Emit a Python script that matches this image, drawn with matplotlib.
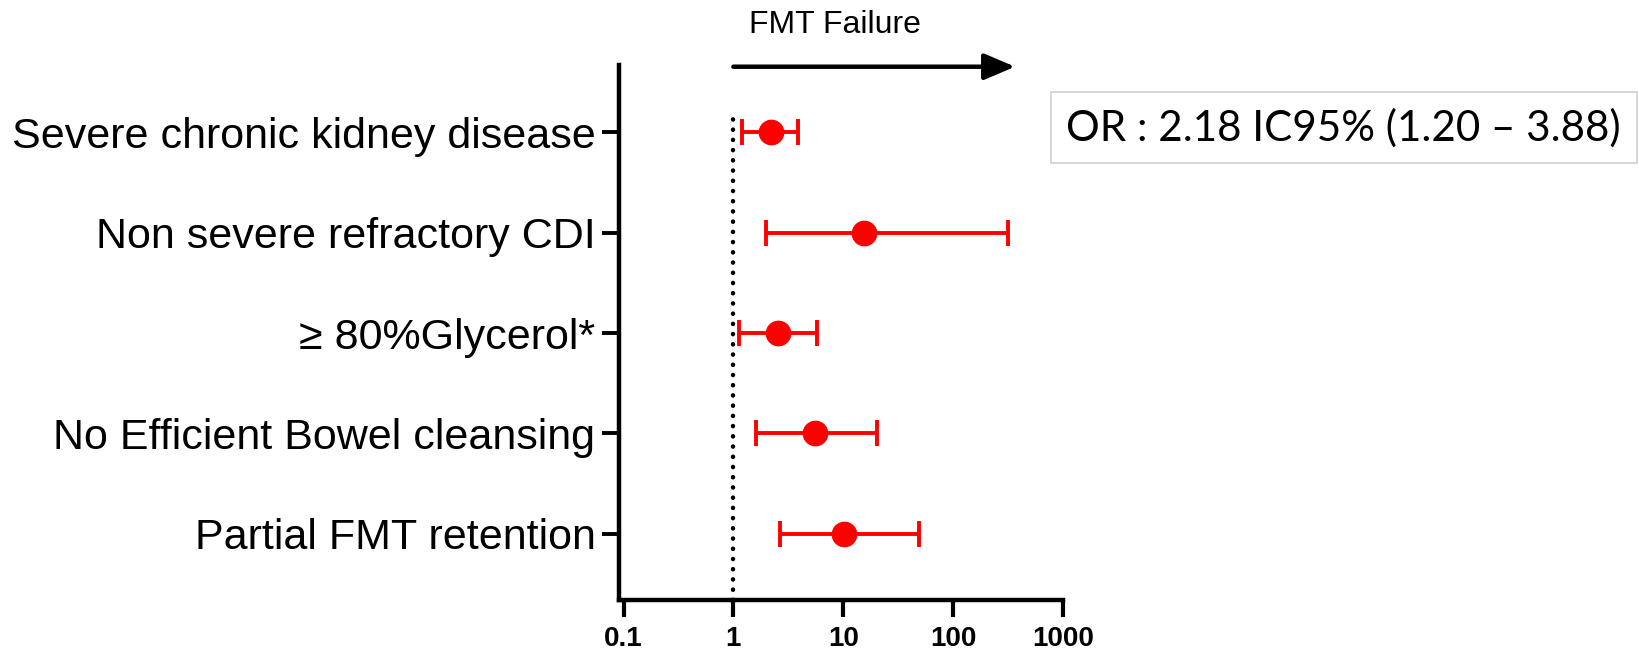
import matplotlib
matplotlib.use("Agg")
import matplotlib.pyplot as plt
from matplotlib.patches import Rectangle

# odds ratios with 95% CI
factors = ["Severe chronic kidney disease",
           "Non severe refractory CDI",
           "\u2265 80%Glycerol*",
           "No Efficient Bowel cleansing",
           "Partial FMT retention"]
odds_ratio = [2.18, 15.4, 2.57, 5.53, 10.1]
ci_low = [1.20, 1.98, 1.13, 1.60, 2.64]
ci_high = [3.88, 318, 5.71, 20.1, 48.8]

xtick_vals = [0.1, 1, 10, 100, 1000]
xtick_labels = ["0.1", "1", "10", "100", "1000"]

plt.rcParams["font.family"] = ["Liberation Sans", "DejaVu Sans"]

W, H = 1639, 650
fig = plt.figure(figsize=(W / 100, H / 100), dpi=100)
ax = fig.add_axes([619 / W, 1 - 600 / H, (1063 - 619) / W, (600 - 65) / H])

ypos = list(range(len(factors)))
xerr = [[o - l for o, l in zip(odds_ratio, ci_low)],
        [h - o for o, h in zip(odds_ratio, ci_high)]]

# reference line at OR = 1
ax.plot([1, 1], [4.66, -0.22], color="black", lw=3.2,
        linestyle=(0, (0.05, 2.25)), dash_capstyle="round", zorder=1,
        clip_on=False)

ax.errorbar(odds_ratio, ypos, xerr=xerr, fmt="o", color="red", ms=17.5,
            elinewidth=2.8, capsize=9.7, capthick=2.8, zorder=3)

ax.set_xscale("log")
ax.set_xlim(0.091, 1000)
ax.set_ylim(4.657, -0.667)
ax.set_xticks(xtick_vals)
ax.set_xticklabels(xtick_labels, fontsize=20, fontweight="bold")
ax.minorticks_off()
ax.set_yticks(ypos)
ax.set_yticklabels(factors, fontsize=31)

for s in ["top", "right"]:
    ax.spines[s].set_visible(False)
for s in ["left", "bottom"]:
    ax.spines[s].set_linewidth(3.2)
    ax.spines[s].set_capstyle("projecting")

ax.tick_params(axis="x", length=12, width=3.0, pad=7)
ax.tick_params(axis="y", length=12, width=2.8, pad=5)

# direction arrow above the plot
arrow_end = 366
ax.annotate("", xy=(arrow_end, 0.9968), xytext=(1, 0.9968),
            xycoords=ax.get_xaxis_transform(),
            arrowprops=dict(arrowstyle="-|>,head_length=0.94,head_width=0.4",
                            lw=3.2, color="black", shrinkA=0, shrinkB=0,
                            mutation_scale=20, capstyle="round"),
            annotation_clip=False)
fig.text(835 / W, 1 - 25 / H, "FMT Failure", fontsize=23,
         ha="center", va="center")

# OR annotation box
fig.add_artist(Rectangle((1050.7 / W, 1 - 162.7 / H), (1637 - 1050.7) / W,
                         71 / H, transform=fig.transFigure, fill=False,
                         ec="#d0d0d0", lw=1.2))
or_text = "OR : %.2f IC95%% (%.2f \u2013 %.2f)" % (odds_ratio[0], ci_low[0], ci_high[0])
fig.text(1066 / W, 1 - 128 / H, or_text, fontsize=30.3, family=["Lato", "DejaVu Sans"],
         ha="left", va="center")

fig.savefig("out.png", dpi=100)
